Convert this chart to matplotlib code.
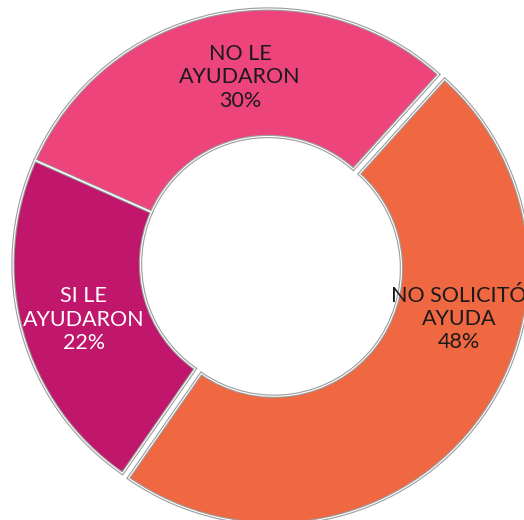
import numpy as np
import matplotlib
matplotlib.use("Agg")
import matplotlib.pyplot as plt

categories = ["NO SOLICITÓ\nAYUDA", "SI LE\nAYUDARON", "NO LE\nAYUDARON"]
values = [48, 22, 30]
colors = ["#F06841", "#C0166C", "#EE447C"]
text_colors = ["#1a1a1a", "white", "#1a1a1a"]

plt.rcParams['font.family'] = ['Lato', 'DejaVu Sans']

fig = plt.figure(figsize=(5.24, 5.20), dpi=100)
ax = fig.add_axes([0, 0, 1, 1])
ax.set_aspect('equal')
ax.axis('off')

R = 255.0
cx, cy = 268.0, 264.0

wedges, _ = ax.pie(values, colors=colors, startangle=48, counterclock=False,
                   radius=1.0, explode=[0.03, 0, 0], center=(0, 0),
                   wedgeprops=dict(width=0.5, edgecolor='#9c9c9c', linewidth=2.4))
for w in wedges:
    w.set_clip_on(False)

# thin white separators for a bevel-like gap
ax.pie(values, colors=['none'] * 3, startangle=48, counterclock=False,
       radius=1.0, explode=[0.03, 0, 0], center=(0, 0),
       wedgeprops=dict(width=0.5, edgecolor='white', linewidth=0.8, fill=False))
ax.set_xlim(-cx / R, (524 - cx) / R)
ax.set_ylim(-(520 - cy) / R, cy / R)

# label placement (angle deg, radius)
label_pos = [(-16, 0.78), (196.8, 0.755), (98.5, 0.74)]
total = sum(values)
for cat, v, tc, (ang, r) in zip(categories, values, text_colors, label_pos):
    a = np.deg2rad(ang)
    ax.text(r * np.cos(a), r * np.sin(a), f"{cat}\n{round(100 * v / total)}%",
            ha='center', va='center', fontsize=15.5, color=tc, linespacing=1.2)

fig.savefig("out.png", dpi=100)
